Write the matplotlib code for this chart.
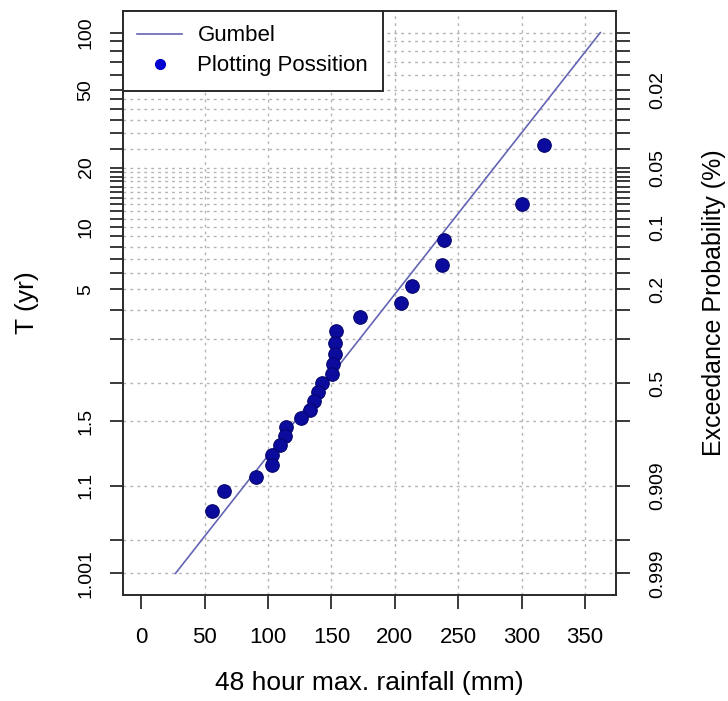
import numpy as np
import matplotlib
matplotlib.use("Agg")
import matplotlib.pyplot as plt
from matplotlib.lines import Line2D

plt.rcParams["font.family"] = ["Liberation Sans", "DejaVu Sans"]

# annual 48 h maxima (mm) with their plotting-position return periods (yr)
rain_mm = [317.8, 300.0, 238.9, 237.1, 213.4, 204.7, 172.3, 153.4, 152.8, 152.6,
           151.3, 150.5, 142.9, 139.4, 136.3, 132.9, 125.8, 114.5, 113.7, 109.2,
           103.4, 103.4, 90.2, 65.2, 55.7]
T_pp = [26.0, 13.0, 8.667, 6.5, 5.2, 4.333, 3.714, 3.25, 2.889, 2.6,
        2.364, 2.167, 2.0, 1.857, 1.733, 1.625, 1.529, 1.444, 1.368, 1.3,
        1.238, 1.182, 1.130, 1.083, 1.04]

# fitted Gumbel line (straight on Gumbel paper)
gumbel_T = [1.001, 100]
gumbel_mm = [27, 362]

T_ticks = [1.001, 1.01, 1.1, 1.5, 2, 3, 4, 5, 6, 7, 8, 9, 10, 11, 12, 13, 14, 15,
           16, 17, 18, 19, 20, 25, 30, 35, 40, 45, 50, 60, 70, 80, 90, 100]
T_labels = {1.001: "1.001", 1.1: "1.1", 1.5: "1.5", 5: "5", 10: "10",
            20: "20", 50: "50", 100: "100"}
P_labels = {1.001: "0.999", 1.1: "0.909", 2: "0.5", 5: "0.2", 10: "0.1",
            20: "0.05", 50: "0.02"}
x_ticks = [0, 50, 100, 150, 200, 250, 300, 350]
x_range = (0, 360)


def fwd(T):
    T = np.asarray(T, dtype=float)
    with np.errstate(all="ignore"):
        return -np.log(-np.log(1.0 - 1.0 / T))


def inv(y):
    y = np.asarray(y, dtype=float)
    with np.errstate(all="ignore"):
        return 1.0 / (1.0 - np.exp(-np.exp(-y)))


LINE_C = "#6464b4"
PT_C = "#0b0b9e"
GRID_C = "#b4b4b4"
AX_C = "#2a2a2a"

fig = plt.figure(figsize=(7.28, 7.01), dpi=100)
ax = fig.add_axes([123 / 728, 1 - 595 / 701, (616 - 123) / 728, (595 - 11) / 701])
ax.set_yscale("function", functions=(fwd, inv))

y0, y1 = fwd(T_ticks[0]), fwd(T_ticks[-1])
pad = 0.04 * (y1 - y0)
ax.set_ylim(inv(y0 - pad), inv(y1 + pad))
xpad = 0.04 * (x_range[1] - x_range[0])
ax.set_xlim(x_range[0] - xpad, x_range[1] + xpad)

ax.plot(gumbel_mm, gumbel_T, color=LINE_C, lw=1.2, zorder=3)
ax.scatter(rain_mm, T_pp, s=95, color=PT_C, edgecolors="#05056e", linewidths=0.8, zorder=4)

# grid
ax.set_axisbelow(True)
ax.yaxis.grid(True, color=GRID_C, linestyle=(0, (2, 3)), linewidth=1.0)
for v in x_ticks[1:]:
    ax.axvline(v, color=GRID_C, linestyle=(0, (2, 3)), linewidth=1.0, zorder=0.5)

ax.set_xticks(x_ticks)
ax.set_yticks(T_ticks)
ax.set_yticklabels([T_labels.get(t, "") for t in T_ticks], rotation=90, va="center")
ax.minorticks_off()
ax.tick_params(axis="x", length=10, width=1.3, color=AX_C, labelsize=16, pad=13)
ax.tick_params(axis="y", length=9.5, width=1.3, color=AX_C, labelsize=14, pad=11)
for s in ax.spines.values():
    s.set_color(AX_C)
    s.set_linewidth(1.4)

ax2 = ax.twinx()
ax2.set_yscale("function", functions=(fwd, inv))
ax2.set_ylim(ax.get_ylim())
ax2.set_yticks(T_ticks)
ax2.set_yticklabels([P_labels.get(t, "") for t in T_ticks], rotation=90, va="center")
ax2.minorticks_off()
ax2.tick_params(axis="y", length=10, width=1.3, color=AX_C, labelsize=14, pad=14)
for s in ax2.spines.values():
    s.set_visible(False)

ax.set_xlabel("48 hour max. rainfall (mm)", fontsize=19)
ax.xaxis.set_label_coords(0.5, -0.13)
ax.set_ylabel("T (yr)", fontsize=19)
ax.yaxis.set_label_coords(-0.17, 0.5)
ax2.set_ylabel("Exceedance Probability (%)", fontsize=18)
ax2.yaxis.set_label_coords(1.175, 0.5)

handles = [Line2D([], [], color=LINE_C, lw=1.2),
           Line2D([], [], ls="none", marker="o", ms=7, color="#0000d0")]
leg = ax.legend(handles, ["Gumbel", "Plotting Possition"], loc="upper left",
                bbox_to_anchor=(0, 1), borderaxespad=0, fontsize=16, fancybox=False,
                framealpha=1, edgecolor=AX_C, handlelength=2.0, handletextpad=0.7,
                labelspacing=0.4, borderpad=0.65)
leg.get_frame().set_linewidth(1.4)
leg.set_zorder(6)

fig.savefig("out.png", dpi=100)
